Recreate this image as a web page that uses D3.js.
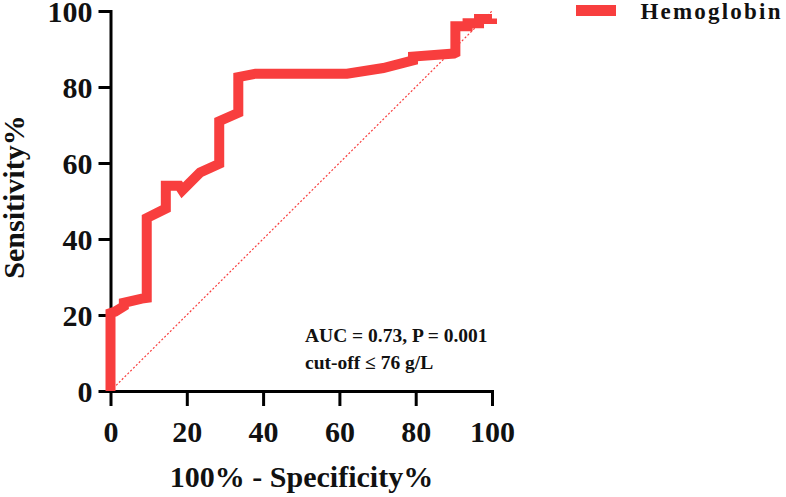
<!DOCTYPE html>
<html>
<head>
<meta charset="utf-8">
<script src="https://cdn.jsdelivr.net/npm/d3@7"></script>
<style>
  html, body { margin: 0; padding: 0; background: #fff; }
  svg { display: block; }
  text { font-family: "Liberation Serif", "Times New Roman", serif; font-weight: bold; fill: #111; }
</style>
</head>
<body>
<svg id="chart" width="786" height="497"></svg>
<script>
// 100% - Specificity% (x) and Sensitivity% (y) of the ROC curve
const fpr  = [0, 0, 1.2, 3.5, 3.5, 8.2, 9.5, 9.5, 14.5, 14.5, 18, 18.8, 23.5, 28.5, 28.5, 33.5, 33.5, 38, 50, 62, 71.5, 79.3, 79.3, 90, 90.4, 90.4, 93.6, 93.6, 96.6, 96.6, 100, 100];
const sens = [0, 20.5, 20.9, 22.3, 23.2, 24.3, 24.5, 45.5, 48, 54, 54, 52.8, 57.5, 59.8, 71, 73.2, 82.6, 83.5, 83.5, 83.5, 85, 87, 88, 88.8, 89, 96, 96, 96.8, 96.8, 97.9, 97.9, 98];
const diagonal = [0, 100];
const xTicks = [0, 20, 40, 60, 80, 100];
const yTicks = [0, 20, 40, 60, 80, 100];
const seriesName = "Hemoglobin";
const annotations = ["AUC = 0.73, P = 0.001", "cut-off \u2264 76 g/L"];
const xTitle = "100% - Specificity%";
const yTitle = "Sensitivity%";

const svg = d3.select("#chart");
const red = "#f83e3e";

const x = d3.scaleLinear().domain([0, 100]).range([110.5, 492]);
const y = d3.scaleLinear().domain([0, 100]).range([391, 11]);

// Diagonal reference line
svg.append("line")
  .attr("x1", x(diagonal[0])).attr("y1", y(diagonal[0]))
  .attr("x2", x(diagonal[1])).attr("y2", y(diagonal[1]))
  .attr("stroke", red).attr("stroke-width", 1.2)
  .attr("stroke-dasharray", "2,2");

// Axes
const xAxis = svg.append("g")
  .attr("transform", `translate(0,${y(0)})`)
  .call(d3.axisBottom(x).tickValues(xTicks).tickSize(15).tickSizeOuter(0).tickPadding(14));
const yAxis = svg.append("g")
  .attr("transform", `translate(${x(0)},0)`)
  .call(d3.axisLeft(y).tickValues(yTicks).tickSize(12).tickSizeOuter(0).tickPadding(6));

[xAxis, yAxis].forEach(g => {
  g.select(".domain").attr("stroke", "#000").attr("stroke-width", 3).attr("stroke-linecap", "square");
  g.selectAll(".tick line").attr("stroke", "#000").attr("stroke-width", 3);
  g.selectAll(".tick text")
    .attr("fill", "#111")
    .style("font-family", '"Liberation Serif", "Times New Roman", serif')
    .style("font-weight", "bold")
    .style("font-size", "30px");
});
xAxis.selectAll(".tick text").attr("dy", "0.72em");
yAxis.selectAll(".tick text").attr("dy", "0.34em");

// ROC curve
const pts = fpr.map((d, i) => [d, sens[i]]);
svg.append("path")
  .datum(pts)
  .attr("d", d3.line().x(d => x(d[0])).y(d => y(d[1])))
  .attr("fill", "none")
  .attr("stroke", red)
  .attr("stroke-width", 10)
  .attr("stroke-linejoin", "miter")
  .attr("stroke-linecap", "butt");

// Axis titles
svg.append("text")
  .attr("x", 301.5).attr("y", 487)
  .attr("text-anchor", "middle")
  .style("font-size", "30px")
  .text(xTitle);
svg.append("text")
  .attr("transform", "translate(24,197) rotate(-90)")
  .attr("text-anchor", "middle")
  .style("font-size", "30px")
  .text(yTitle);

// Legend
svg.append("rect")
  .attr("x", 576).attr("y", 5).attr("width", 40).attr("height", 11)
  .attr("fill", red);
svg.append("text")
  .attr("x", 640.5).attr("y", 18.5)
  .style("font-size", "23px")
  .style("letter-spacing", "2.2px")
  .text(seriesName);

// Annotation
svg.selectAll("text.anno")
  .data(annotations)
  .enter().append("text")
  .attr("class", "anno")
  .attr("x", 305)
  .attr("y", (d, i) => 342 + i * 27)
  .style("font-size", "19.5px")
  .text(d => d);
</script>
</body>
</html>
